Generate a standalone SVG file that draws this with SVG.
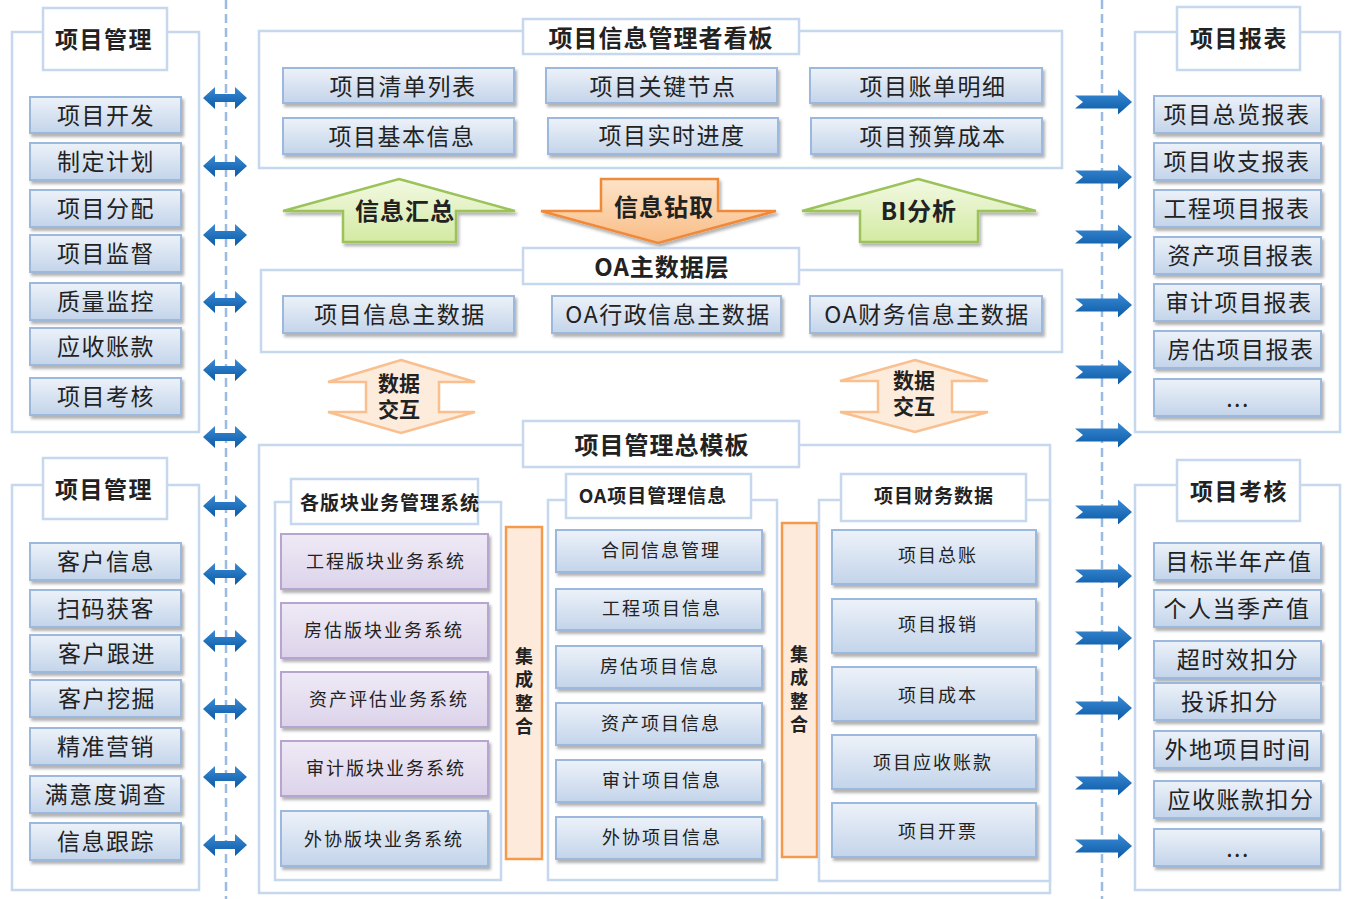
<svg xmlns="http://www.w3.org/2000/svg" width="1348" height="899" viewBox="0 0 1348 899">
<defs>
<style>
.frame{fill:none;stroke:#c6d8ee;stroke-width:2.5}
.tbox{fill:#fff;stroke:#c6d8ee;stroke-width:2.5}
.item{fill:url(#gBlue);stroke:#9cb8dc;stroke-width:2;filter:url(#sh)}
.pitem{fill:url(#gPurple);stroke:#b6a6cf;stroke-width:2;filter:url(#sh)}
.t{font-family:"Noto Sans CJK SC","Microsoft YaHei",sans-serif;fill:#222;text-anchor:middle;dominant-baseline:central}
.it{font-size:23px;letter-spacing:1.5px}
.st{font-size:18px;letter-spacing:2px}
.tt{font-size:23px;font-weight:bold;letter-spacing:1.5px}
.ht{font-size:24px;font-weight:bold;letter-spacing:1px}
.sub{font-size:19px;font-weight:bold;letter-spacing:1px}
.vt{font-family:"Noto Sans CJK SC","Microsoft YaHei",sans-serif;fill:#222;font-size:18px;font-weight:bold;writing-mode:vertical-rl;letter-spacing:5.5px}
.xt{font-size:21px;font-weight:bold}
.dash{stroke:#9cbbe3;stroke-width:2.5;stroke-dasharray:9 5;fill:none}
.bar{fill:#fdeada;stroke:#f59a4c;stroke-width:2.5}
.garrow{fill:url(#gGreen);stroke:#9bc35a;stroke-width:2.5;filter:url(#sh)}
.oarrow{fill:url(#gOrange);stroke:#f08a3a;stroke-width:2.5;filter:url(#sh)}
.xarrow{fill:#fdebdc;stroke:#f9bf8f;stroke-width:2.5}
</style>
<linearGradient id="gBlue" x1="0" y1="0" x2="0" y2="1"><stop offset="0" stop-color="#edf2f9"/><stop offset="1" stop-color="#c3d4ea"/></linearGradient>
<linearGradient id="gPurple" x1="0" y1="0" x2="0" y2="1"><stop offset="0" stop-color="#efeaf6"/><stop offset="1" stop-color="#dcd3ea"/></linearGradient>
<linearGradient id="gGreen" x1="0" y1="0" x2="0" y2="1"><stop offset="0" stop-color="#f3f9e3"/><stop offset="1" stop-color="#d3eaa3"/></linearGradient>
<linearGradient id="gOrange" x1="0" y1="0" x2="0" y2="1"><stop offset="0" stop-color="#fde3c8"/><stop offset="1" stop-color="#f9bd86"/></linearGradient>
<linearGradient id="gArrow" x1="0" y1="0" x2="0" y2="1"><stop offset="0" stop-color="#3a8ad6"/><stop offset="1" stop-color="#0a5aa6"/></linearGradient>
<filter id="sh" x="-10%" y="-20%" width="120%" height="150%"><feDropShadow dx="2" dy="3" stdDeviation="1.5" flood-color="#000" flood-opacity="0.3"/></filter>
<path id="dbl" d="M-22,0 L-10,-11 L-10,-4 L10,-4 L10,-11 L22,0 L10,11 L10,4 L-10,4 L-10,11 Z" fill="url(#gArrow)"/>
<path id="rarr" d="M0,-6.5 L43,-6.5 L43,-12.5 L57,0 L43,12.5 L43,6.5 L0,6.5 L8,0 Z" fill="url(#gArrow)"/>
</defs>
<rect width="1348" height="899" fill="#fff"/>

<g id="connectors">
<line class="dash" x1="226" y1="0" x2="226" y2="899"/>
<line class="dash" x1="1102" y1="0" x2="1102" y2="899"/>
<use href="#dbl" x="225" y="98"/><use href="#dbl" x="225" y="166"/><use href="#dbl" x="225" y="235"/>
<use href="#dbl" x="225" y="302"/><use href="#dbl" x="225" y="370"/><use href="#dbl" x="225" y="437"/>
<use href="#dbl" x="225" y="506"/><use href="#dbl" x="225" y="574"/><use href="#dbl" x="225" y="641"/>
<use href="#dbl" x="225" y="709"/><use href="#dbl" x="225" y="777"/><use href="#dbl" x="225" y="845"/>
<use href="#rarr" x="1075" y="102"/><use href="#rarr" x="1075" y="177"/><use href="#rarr" x="1075" y="237"/>
<use href="#rarr" x="1075" y="305"/><use href="#rarr" x="1075" y="372"/><use href="#rarr" x="1075" y="435"/>
<use href="#rarr" x="1075" y="512"/><use href="#rarr" x="1075" y="576"/><use href="#rarr" x="1075" y="638"/>
<use href="#rarr" x="1075" y="708"/><use href="#rarr" x="1075" y="783"/><use href="#rarr" x="1075" y="846"/>
</g>

<g id="left-top">
<rect class="frame" x="12" y="32" width="187" height="400"/>
<rect class="tbox" x="43" y="8" width="124" height="62"/>
<text class="t tt" x="104" y="38">项目管理</text>
<rect class="item" x="30" y="97" width="151" height="36"/><text class="t it" x="106" y="114">项目开发</text>
<rect class="item" x="30" y="143" width="151" height="37"/><text class="t it" x="106" y="160">制定计划</text>
<rect class="item" x="30" y="190" width="151" height="37"/><text class="t it" x="106" y="207">项目分配</text>
<rect class="item" x="30" y="235" width="151" height="37"/><text class="t it" x="106" y="252">项目监督</text>
<rect class="item" x="30" y="283" width="151" height="37"/><text class="t it" x="106" y="300">质量监控</text>
<rect class="item" x="30" y="328" width="151" height="37"/><text class="t it" x="106" y="345">应收账款</text>
<rect class="item" x="30" y="378" width="151" height="37"/><text class="t it" x="106" y="395">项目考核</text>
</g>

<g id="left-bottom">
<rect class="frame" x="12" y="485" width="187" height="405"/>
<rect class="tbox" x="43" y="458" width="124" height="61"/>
<text class="t tt" x="104" y="488">项目管理</text>
<rect class="item" x="30" y="543" width="151" height="37"/><text class="t it" x="106" y="560">客户信息</text>
<rect class="item" x="30" y="590" width="151" height="37"/><text class="t it" x="106" y="607">扫码获客</text>
<rect class="item" x="30" y="635" width="151" height="37"/><text class="t it" x="107" y="652">客户跟进</text>
<rect class="item" x="30" y="680" width="151" height="37"/><text class="t it" x="107" y="697">客户挖掘</text>
<rect class="item" x="30" y="728" width="151" height="37"/><text class="t it" x="106" y="745">精准营销</text>
<rect class="item" x="30" y="776" width="151" height="37"/><text class="t it" x="106" y="793">满意度调查</text>
<rect class="item" x="30" y="823" width="151" height="37"/><text class="t it" x="106" y="840">信息跟踪</text>
</g>

<g id="right-top">
<rect class="frame" x="1135" y="32" width="205" height="400"/>
<rect class="tbox" x="1177" y="7" width="123" height="63"/>
<text class="t tt" x="1239" y="37">项目报表</text>
<rect class="item" x="1154" y="96" width="167" height="37"/><text class="t it" x="1237" y="113">项目总览报表</text>
<rect class="item" x="1154" y="143" width="167" height="37"/><text class="t it" x="1237" y="160">项目收支报表</text>
<rect class="item" x="1154" y="190" width="167" height="37"/><text class="t it" x="1237" y="207">工程项目报表</text>
<rect class="item" x="1154" y="237" width="167" height="37"/><text class="t it" x="1241" y="254">资产项目报表</text>
<rect class="item" x="1154" y="284" width="167" height="37"/><text class="t it" x="1239" y="301">审计项目报表</text>
<rect class="item" x="1154" y="331" width="167" height="37"/><text class="t it" x="1241" y="348">房估项目报表</text>
<rect class="item" x="1154" y="379" width="167" height="37"/><text class="t it" x="1238" y="397">...</text>
</g>

<g id="right-bottom">
<rect class="frame" x="1135" y="485" width="205" height="405"/>
<rect class="tbox" x="1177" y="460" width="123" height="61"/>
<text class="t tt" x="1239" y="490">项目考核</text>
<rect class="item" x="1154" y="543" width="167" height="37"/><text class="t it" x="1239" y="560">目标半年产值</text>
<rect class="item" x="1154" y="590" width="167" height="37"/><text class="t it" x="1237" y="607">个人当季产值</text>
<rect class="item" x="1154" y="641" width="167" height="37"/><text class="t it" x="1238" y="658">超时效扣分</text>
<rect class="item" x="1154" y="683" width="167" height="37"/><text class="t it" x="1230" y="700">投诉扣分</text>
<rect class="item" x="1154" y="731" width="167" height="37"/><text class="t it" x="1238" y="748">外地项目时间</text>
<rect class="item" x="1154" y="781" width="167" height="37"/><text class="t it" x="1241" y="798">应收账款扣分</text>
<rect class="item" x="1154" y="829" width="167" height="37"/><text class="t it" x="1238" y="847">...</text>
</g>

<g id="dashboard">
<rect class="frame" x="259" y="31" width="803" height="137"/>
<rect class="tbox" x="523" y="19" width="276" height="35"/>
<text class="t ht" x="661" y="36">项目信息管理者看板</text>
<rect class="item" x="283" y="68" width="231" height="35"/><text class="t it" x="403" y="85">项目清单列表</text>
<rect class="item" x="546" y="68" width="231" height="35"/><text class="t it" x="663" y="85">项目关键节点</text>
<rect class="item" x="810" y="68" width="232" height="35"/><text class="t it" x="933" y="85">项目账单明细</text>
<rect class="item" x="283" y="118" width="231" height="36"/><text class="t it" x="402" y="135">项目基本信息</text>
<rect class="item" x="548" y="118" width="230" height="36"/><text class="t it" x="672" y="134">项目实时进度</text>
<rect class="item" x="811" y="118" width="231" height="36"/><text class="t it" x="933" y="135">项目预算成本</text>
</g>

<g id="arrow-summary">
<polygon class="garrow" points="399,179 515,211 456,211 456,242 343,242 343,211 283,211"/>
<text class="t ht" x="405" y="209">信息汇总</text>
</g>
<g id="arrow-drill">
<polygon class="oarrow" points="601,179 718,179 718,211 776,211 658,243 541,211 601,211"/>
<text class="t ht" x="664" y="205">信息钻取</text>
</g>
<g id="arrow-bi">
<polygon class="garrow" points="918,179 1036,211 978,211 978,242 860,242 860,211 802,211"/>
<text class="t ht" x="919" y="209">BI分析</text>
</g>

<g id="master-data">
<rect class="frame" x="261" y="270" width="801" height="82"/>
<rect class="tbox" x="523" y="248" width="276" height="36"/>
<text class="t ht" x="662" y="265">OA主数据层</text>
<rect class="item" x="283" y="296" width="231" height="37"/><text class="t it" x="400" y="313">项目信息主数据</text>
<rect class="item" x="552" y="296" width="229" height="37"/><text class="t it" x="668" y="313">OA行政信息主数据</text>
<rect class="item" x="810" y="296" width="232" height="37"/><text class="t it" x="927" y="313">OA财务信息主数据</text>
</g>

<g id="exchange-left">
<polygon class="xarrow" points="401,360 475,382 439,382 439,412 475,412 401,433 328,412 366,412 366,382 328,382"/>
<text class="t xt" x="399" y="382">数据<tspan x="399" dy="26">交互</tspan></text>
</g>
<g id="exchange-right">
<polygon class="xarrow" points="915,360 988,381 952,381 952,412 988,412 915,432 840,412 878,412 878,381 840,381"/>
<text class="t xt" x="914" y="379">数据<tspan x="914" dy="26">交互</tspan></text>
</g>

<g id="master-template">
<rect class="frame" x="259" y="445" width="791" height="448"/>
<rect class="tbox" x="523" y="421" width="276" height="46"/>
<text class="t ht" x="662" y="443">项目管理总模板</text>
</g>

<g id="biz-systems">
<rect class="frame" x="275" y="502" width="226" height="378"/>
<rect class="tbox" x="291" y="479" width="187" height="45"/>
<text class="t sub" x="390" y="501">各版块业务管理系统</text>
<rect class="pitem" x="281" y="534" width="207" height="55"/><text class="t st" x="386" y="560">工程版块业务系统</text>
<rect class="pitem" x="281" y="603" width="207" height="55"/><text class="t st" x="384" y="629">房估版块业务系统</text>
<rect class="pitem" x="281" y="672" width="207" height="55"/><text class="t st" x="389" y="698">资产评估业务系统</text>
<rect class="pitem" x="281" y="741" width="207" height="55"/><text class="t st" x="386" y="767">审计版块业务系统</text>
<rect class="item" x="281" y="811" width="207" height="55"/><text class="t st" x="384" y="838">外协版块业务系统</text>
</g>

<g id="integrate-1">
<rect class="bar" x="506" y="527" width="36" height="332"/>
<text class="vt" x="524" y="647">集成整合</text>
</g>

<g id="oa-project-info">
<rect class="frame" x="548" y="500" width="229" height="380"/>
<rect class="tbox" x="566" y="474" width="185" height="44"/>
<text class="t sub" x="653" y="494">OA项目管理信息</text>
<rect class="item" x="556" y="530" width="206" height="42"/><text class="t st" x="661" y="549">合同信息管理</text>
<rect class="item" x="556" y="589" width="206" height="41"/><text class="t st" x="662" y="607">工程项目信息</text>
<rect class="item" x="556" y="646" width="206" height="42"/><text class="t st" x="660" y="665">房估项目信息</text>
<rect class="item" x="556" y="703" width="206" height="42"/><text class="t st" x="661" y="722">资产项目信息</text>
<rect class="item" x="556" y="760" width="206" height="42"/><text class="t st" x="662" y="779">审计项目信息</text>
<rect class="item" x="556" y="817" width="206" height="42"/><text class="t st" x="662" y="836">外协项目信息</text>
</g>

<g id="integrate-2">
<rect class="bar" x="782" y="523" width="35" height="334"/>
<text class="vt" x="799" y="645">集成整合</text>
</g>

<g id="finance-data">
<rect class="frame" x="819" y="500" width="231" height="381"/>
<rect class="tbox" x="841" y="474" width="185" height="47"/>
<text class="t sub" x="934" y="494">项目财务数据</text>
<rect class="item" x="832" y="530" width="204" height="54"/><text class="t st" x="938" y="554">项目总账</text>
<rect class="item" x="832" y="599" width="204" height="54"/><text class="t st" x="938" y="623">项目报销</text>
<rect class="item" x="832" y="667" width="204" height="54"/><text class="t st" x="938" y="694">项目成本</text>
<rect class="item" x="832" y="735" width="204" height="54"/><text class="t st" x="933" y="761">项目应收账款</text>
<rect class="item" x="832" y="803" width="204" height="54"/><text class="t st" x="938" y="830">项目开票</text>
</g>
</svg>
